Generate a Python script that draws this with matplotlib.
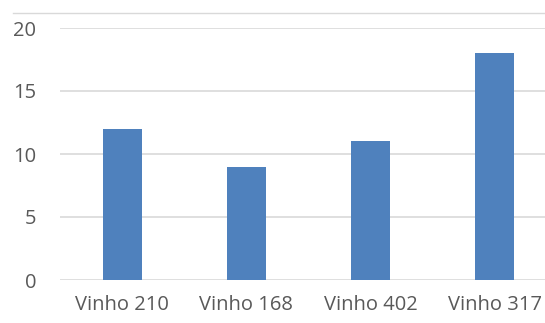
import matplotlib
matplotlib.use("Agg")
import matplotlib.pyplot as plt
from matplotlib.lines import Line2D

categories = ["Vinho 210", "Vinho 168", "Vinho 402", "Vinho 317"]
values = [12, 9, 11, 18]
yticks = [0, 5, 10, 15, 20]

plt.rcParams['font.family'] = ['Open Sans', 'DejaVu Sans']

fig = plt.figure(figsize=(5.45, 3.23), dpi=100)
ax = fig.add_axes([60/545, 1-280/323, 497/545, 252/323])

x = list(range(len(categories)))
ax.bar(x, values, width=0.314, color="#4F81BD", zorder=3)
ax.set_xlim(-0.5, 3.5)
ax.set_ylim(0, 20)
ax.set_yticks(yticks)
ax.set_xticks(x)
ax.set_xticklabels(categories)
ax.grid(axis="y", color="#D9D9D9", linewidth=1.2, zorder=0)
for s in ax.spines.values():
    s.set_visible(False)
ax.tick_params(length=0, labelsize=14.5, colors="#595959")
ax.tick_params(axis="x", pad=11)
ax.tick_params(axis="y", pad=17)

fig.add_artist(Line2D([13/545, 1], [1-13/323, 1-13/323], color="#D9D9D9", linewidth=1, transform=fig.transFigure))

fig.savefig("out.png", dpi=100)
